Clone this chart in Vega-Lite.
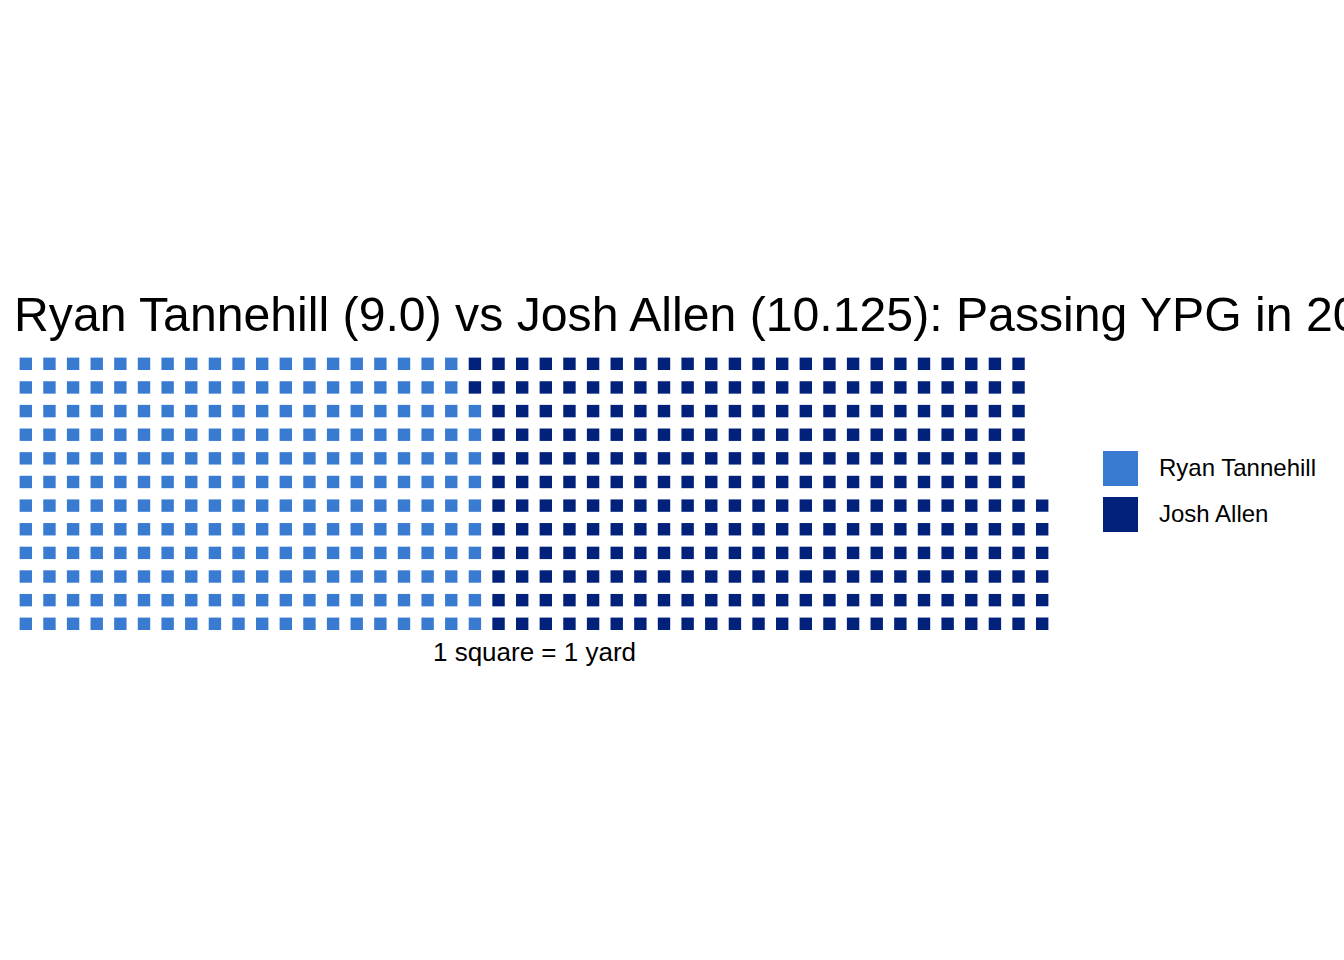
{
  "$schema": "https://vega.github.io/schema/vega-lite/v6.json",
  "autosize": "none",
  "width": 1040,
  "height": 283.6,
  "padding": {"left": 14, "top": 352, "right": 290, "bottom": 324.4},
  "background": "white",
  "title": {
    "text": "Ryan Tannehill (9.0) vs Josh Allen (10.125): Passing YPG in 2020",
    "anchor": "start",
    "font": "Liberation Sans",
    "fontSize": 48.2,
    "fontWeight": "normal",
    "color": "black",
    "offset": 11
  },
  "config": {"view": {"stroke": null}},
  "data": {"values": [
{"col":0,"row":1,"player":"Ryan Tannehill"},{"col":0,"row":2,"player":"Ryan Tannehill"},{"col":0,"row":3,"player":"Ryan Tannehill"},{"col":0,"row":4,"player":"Ryan Tannehill"},{"col":0,"row":5,"player":"Ryan Tannehill"},{"col":0,"row":6,"player":"Ryan Tannehill"},{"col":0,"row":7,"player":"Ryan Tannehill"},{"col":0,"row":8,"player":"Ryan Tannehill"},{"col":0,"row":9,"player":"Ryan Tannehill"},{"col":0,"row":10,"player":"Ryan Tannehill"},{"col":0,"row":11,"player":"Ryan Tannehill"},{"col":0,"row":12,"player":"Ryan Tannehill"},
{"col":1,"row":1,"player":"Ryan Tannehill"},{"col":1,"row":2,"player":"Ryan Tannehill"},{"col":1,"row":3,"player":"Ryan Tannehill"},{"col":1,"row":4,"player":"Ryan Tannehill"},{"col":1,"row":5,"player":"Ryan Tannehill"},{"col":1,"row":6,"player":"Ryan Tannehill"},{"col":1,"row":7,"player":"Ryan Tannehill"},{"col":1,"row":8,"player":"Ryan Tannehill"},{"col":1,"row":9,"player":"Ryan Tannehill"},{"col":1,"row":10,"player":"Ryan Tannehill"},{"col":1,"row":11,"player":"Ryan Tannehill"},{"col":1,"row":12,"player":"Ryan Tannehill"},
{"col":2,"row":1,"player":"Ryan Tannehill"},{"col":2,"row":2,"player":"Ryan Tannehill"},{"col":2,"row":3,"player":"Ryan Tannehill"},{"col":2,"row":4,"player":"Ryan Tannehill"},{"col":2,"row":5,"player":"Ryan Tannehill"},{"col":2,"row":6,"player":"Ryan Tannehill"},{"col":2,"row":7,"player":"Ryan Tannehill"},{"col":2,"row":8,"player":"Ryan Tannehill"},{"col":2,"row":9,"player":"Ryan Tannehill"},{"col":2,"row":10,"player":"Ryan Tannehill"},{"col":2,"row":11,"player":"Ryan Tannehill"},{"col":2,"row":12,"player":"Ryan Tannehill"},
{"col":3,"row":1,"player":"Ryan Tannehill"},{"col":3,"row":2,"player":"Ryan Tannehill"},{"col":3,"row":3,"player":"Ryan Tannehill"},{"col":3,"row":4,"player":"Ryan Tannehill"},{"col":3,"row":5,"player":"Ryan Tannehill"},{"col":3,"row":6,"player":"Ryan Tannehill"},{"col":3,"row":7,"player":"Ryan Tannehill"},{"col":3,"row":8,"player":"Ryan Tannehill"},{"col":3,"row":9,"player":"Ryan Tannehill"},{"col":3,"row":10,"player":"Ryan Tannehill"},{"col":3,"row":11,"player":"Ryan Tannehill"},{"col":3,"row":12,"player":"Ryan Tannehill"},
{"col":4,"row":1,"player":"Ryan Tannehill"},{"col":4,"row":2,"player":"Ryan Tannehill"},{"col":4,"row":3,"player":"Ryan Tannehill"},{"col":4,"row":4,"player":"Ryan Tannehill"},{"col":4,"row":5,"player":"Ryan Tannehill"},{"col":4,"row":6,"player":"Ryan Tannehill"},{"col":4,"row":7,"player":"Ryan Tannehill"},{"col":4,"row":8,"player":"Ryan Tannehill"},{"col":4,"row":9,"player":"Ryan Tannehill"},{"col":4,"row":10,"player":"Ryan Tannehill"},{"col":4,"row":11,"player":"Ryan Tannehill"},{"col":4,"row":12,"player":"Ryan Tannehill"},
{"col":5,"row":1,"player":"Ryan Tannehill"},{"col":5,"row":2,"player":"Ryan Tannehill"},{"col":5,"row":3,"player":"Ryan Tannehill"},{"col":5,"row":4,"player":"Ryan Tannehill"},{"col":5,"row":5,"player":"Ryan Tannehill"},{"col":5,"row":6,"player":"Ryan Tannehill"},{"col":5,"row":7,"player":"Ryan Tannehill"},{"col":5,"row":8,"player":"Ryan Tannehill"},{"col":5,"row":9,"player":"Ryan Tannehill"},{"col":5,"row":10,"player":"Ryan Tannehill"},{"col":5,"row":11,"player":"Ryan Tannehill"},{"col":5,"row":12,"player":"Ryan Tannehill"},
{"col":6,"row":1,"player":"Ryan Tannehill"},{"col":6,"row":2,"player":"Ryan Tannehill"},{"col":6,"row":3,"player":"Ryan Tannehill"},{"col":6,"row":4,"player":"Ryan Tannehill"},{"col":6,"row":5,"player":"Ryan Tannehill"},{"col":6,"row":6,"player":"Ryan Tannehill"},{"col":6,"row":7,"player":"Ryan Tannehill"},{"col":6,"row":8,"player":"Ryan Tannehill"},{"col":6,"row":9,"player":"Ryan Tannehill"},{"col":6,"row":10,"player":"Ryan Tannehill"},{"col":6,"row":11,"player":"Ryan Tannehill"},{"col":6,"row":12,"player":"Ryan Tannehill"},
{"col":7,"row":1,"player":"Ryan Tannehill"},{"col":7,"row":2,"player":"Ryan Tannehill"},{"col":7,"row":3,"player":"Ryan Tannehill"},{"col":7,"row":4,"player":"Ryan Tannehill"},{"col":7,"row":5,"player":"Ryan Tannehill"},{"col":7,"row":6,"player":"Ryan Tannehill"},{"col":7,"row":7,"player":"Ryan Tannehill"},{"col":7,"row":8,"player":"Ryan Tannehill"},{"col":7,"row":9,"player":"Ryan Tannehill"},{"col":7,"row":10,"player":"Ryan Tannehill"},{"col":7,"row":11,"player":"Ryan Tannehill"},{"col":7,"row":12,"player":"Ryan Tannehill"},
{"col":8,"row":1,"player":"Ryan Tannehill"},{"col":8,"row":2,"player":"Ryan Tannehill"},{"col":8,"row":3,"player":"Ryan Tannehill"},{"col":8,"row":4,"player":"Ryan Tannehill"},{"col":8,"row":5,"player":"Ryan Tannehill"},{"col":8,"row":6,"player":"Ryan Tannehill"},{"col":8,"row":7,"player":"Ryan Tannehill"},{"col":8,"row":8,"player":"Ryan Tannehill"},{"col":8,"row":9,"player":"Ryan Tannehill"},{"col":8,"row":10,"player":"Ryan Tannehill"},{"col":8,"row":11,"player":"Ryan Tannehill"},{"col":8,"row":12,"player":"Ryan Tannehill"},
{"col":9,"row":1,"player":"Ryan Tannehill"},{"col":9,"row":2,"player":"Ryan Tannehill"},{"col":9,"row":3,"player":"Ryan Tannehill"},{"col":9,"row":4,"player":"Ryan Tannehill"},{"col":9,"row":5,"player":"Ryan Tannehill"},{"col":9,"row":6,"player":"Ryan Tannehill"},{"col":9,"row":7,"player":"Ryan Tannehill"},{"col":9,"row":8,"player":"Ryan Tannehill"},{"col":9,"row":9,"player":"Ryan Tannehill"},{"col":9,"row":10,"player":"Ryan Tannehill"},{"col":9,"row":11,"player":"Ryan Tannehill"},{"col":9,"row":12,"player":"Ryan Tannehill"},
{"col":10,"row":1,"player":"Ryan Tannehill"},{"col":10,"row":2,"player":"Ryan Tannehill"},{"col":10,"row":3,"player":"Ryan Tannehill"},{"col":10,"row":4,"player":"Ryan Tannehill"},{"col":10,"row":5,"player":"Ryan Tannehill"},{"col":10,"row":6,"player":"Ryan Tannehill"},{"col":10,"row":7,"player":"Ryan Tannehill"},{"col":10,"row":8,"player":"Ryan Tannehill"},{"col":10,"row":9,"player":"Ryan Tannehill"},{"col":10,"row":10,"player":"Ryan Tannehill"},{"col":10,"row":11,"player":"Ryan Tannehill"},{"col":10,"row":12,"player":"Ryan Tannehill"},
{"col":11,"row":1,"player":"Ryan Tannehill"},{"col":11,"row":2,"player":"Ryan Tannehill"},{"col":11,"row":3,"player":"Ryan Tannehill"},{"col":11,"row":4,"player":"Ryan Tannehill"},{"col":11,"row":5,"player":"Ryan Tannehill"},{"col":11,"row":6,"player":"Ryan Tannehill"},{"col":11,"row":7,"player":"Ryan Tannehill"},{"col":11,"row":8,"player":"Ryan Tannehill"},{"col":11,"row":9,"player":"Ryan Tannehill"},{"col":11,"row":10,"player":"Ryan Tannehill"},{"col":11,"row":11,"player":"Ryan Tannehill"},{"col":11,"row":12,"player":"Ryan Tannehill"},
{"col":12,"row":1,"player":"Ryan Tannehill"},{"col":12,"row":2,"player":"Ryan Tannehill"},{"col":12,"row":3,"player":"Ryan Tannehill"},{"col":12,"row":4,"player":"Ryan Tannehill"},{"col":12,"row":5,"player":"Ryan Tannehill"},{"col":12,"row":6,"player":"Ryan Tannehill"},{"col":12,"row":7,"player":"Ryan Tannehill"},{"col":12,"row":8,"player":"Ryan Tannehill"},{"col":12,"row":9,"player":"Ryan Tannehill"},{"col":12,"row":10,"player":"Ryan Tannehill"},{"col":12,"row":11,"player":"Ryan Tannehill"},{"col":12,"row":12,"player":"Ryan Tannehill"},
{"col":13,"row":1,"player":"Ryan Tannehill"},{"col":13,"row":2,"player":"Ryan Tannehill"},{"col":13,"row":3,"player":"Ryan Tannehill"},{"col":13,"row":4,"player":"Ryan Tannehill"},{"col":13,"row":5,"player":"Ryan Tannehill"},{"col":13,"row":6,"player":"Ryan Tannehill"},{"col":13,"row":7,"player":"Ryan Tannehill"},{"col":13,"row":8,"player":"Ryan Tannehill"},{"col":13,"row":9,"player":"Ryan Tannehill"},{"col":13,"row":10,"player":"Ryan Tannehill"},{"col":13,"row":11,"player":"Ryan Tannehill"},{"col":13,"row":12,"player":"Ryan Tannehill"},
{"col":14,"row":1,"player":"Ryan Tannehill"},{"col":14,"row":2,"player":"Ryan Tannehill"},{"col":14,"row":3,"player":"Ryan Tannehill"},{"col":14,"row":4,"player":"Ryan Tannehill"},{"col":14,"row":5,"player":"Ryan Tannehill"},{"col":14,"row":6,"player":"Ryan Tannehill"},{"col":14,"row":7,"player":"Ryan Tannehill"},{"col":14,"row":8,"player":"Ryan Tannehill"},{"col":14,"row":9,"player":"Ryan Tannehill"},{"col":14,"row":10,"player":"Ryan Tannehill"},{"col":14,"row":11,"player":"Ryan Tannehill"},{"col":14,"row":12,"player":"Ryan Tannehill"},
{"col":15,"row":1,"player":"Ryan Tannehill"},{"col":15,"row":2,"player":"Ryan Tannehill"},{"col":15,"row":3,"player":"Ryan Tannehill"},{"col":15,"row":4,"player":"Ryan Tannehill"},{"col":15,"row":5,"player":"Ryan Tannehill"},{"col":15,"row":6,"player":"Ryan Tannehill"},{"col":15,"row":7,"player":"Ryan Tannehill"},{"col":15,"row":8,"player":"Ryan Tannehill"},{"col":15,"row":9,"player":"Ryan Tannehill"},{"col":15,"row":10,"player":"Ryan Tannehill"},{"col":15,"row":11,"player":"Ryan Tannehill"},{"col":15,"row":12,"player":"Ryan Tannehill"},
{"col":16,"row":1,"player":"Ryan Tannehill"},{"col":16,"row":2,"player":"Ryan Tannehill"},{"col":16,"row":3,"player":"Ryan Tannehill"},{"col":16,"row":4,"player":"Ryan Tannehill"},{"col":16,"row":5,"player":"Ryan Tannehill"},{"col":16,"row":6,"player":"Ryan Tannehill"},{"col":16,"row":7,"player":"Ryan Tannehill"},{"col":16,"row":8,"player":"Ryan Tannehill"},{"col":16,"row":9,"player":"Ryan Tannehill"},{"col":16,"row":10,"player":"Ryan Tannehill"},{"col":16,"row":11,"player":"Ryan Tannehill"},{"col":16,"row":12,"player":"Ryan Tannehill"},
{"col":17,"row":1,"player":"Ryan Tannehill"},{"col":17,"row":2,"player":"Ryan Tannehill"},{"col":17,"row":3,"player":"Ryan Tannehill"},{"col":17,"row":4,"player":"Ryan Tannehill"},{"col":17,"row":5,"player":"Ryan Tannehill"},{"col":17,"row":6,"player":"Ryan Tannehill"},{"col":17,"row":7,"player":"Ryan Tannehill"},{"col":17,"row":8,"player":"Ryan Tannehill"},{"col":17,"row":9,"player":"Ryan Tannehill"},{"col":17,"row":10,"player":"Ryan Tannehill"},{"col":17,"row":11,"player":"Ryan Tannehill"},{"col":17,"row":12,"player":"Ryan Tannehill"},
{"col":18,"row":1,"player":"Ryan Tannehill"},{"col":18,"row":2,"player":"Ryan Tannehill"},{"col":18,"row":3,"player":"Ryan Tannehill"},{"col":18,"row":4,"player":"Ryan Tannehill"},{"col":18,"row":5,"player":"Ryan Tannehill"},{"col":18,"row":6,"player":"Ryan Tannehill"},{"col":18,"row":7,"player":"Ryan Tannehill"},{"col":18,"row":8,"player":"Ryan Tannehill"},{"col":18,"row":9,"player":"Ryan Tannehill"},{"col":18,"row":10,"player":"Ryan Tannehill"},{"col":18,"row":11,"player":"Ryan Tannehill"},{"col":18,"row":12,"player":"Ryan Tannehill"},
{"col":19,"row":1,"player":"Ryan Tannehill"},{"col":19,"row":2,"player":"Ryan Tannehill"},{"col":19,"row":3,"player":"Ryan Tannehill"},{"col":19,"row":4,"player":"Ryan Tannehill"},{"col":19,"row":5,"player":"Ryan Tannehill"},{"col":19,"row":6,"player":"Ryan Tannehill"},{"col":19,"row":7,"player":"Ryan Tannehill"},{"col":19,"row":8,"player":"Ryan Tannehill"},{"col":19,"row":9,"player":"Ryan Tannehill"},{"col":19,"row":10,"player":"Ryan Tannehill"},{"col":19,"row":11,"player":"Josh Allen"},{"col":19,"row":12,"player":"Josh Allen"},
{"col":20,"row":1,"player":"Josh Allen"},{"col":20,"row":2,"player":"Josh Allen"},{"col":20,"row":3,"player":"Josh Allen"},{"col":20,"row":4,"player":"Josh Allen"},{"col":20,"row":5,"player":"Josh Allen"},{"col":20,"row":6,"player":"Josh Allen"},{"col":20,"row":7,"player":"Josh Allen"},{"col":20,"row":8,"player":"Josh Allen"},{"col":20,"row":9,"player":"Josh Allen"},{"col":20,"row":10,"player":"Josh Allen"},{"col":20,"row":11,"player":"Josh Allen"},{"col":20,"row":12,"player":"Josh Allen"},
{"col":21,"row":1,"player":"Josh Allen"},{"col":21,"row":2,"player":"Josh Allen"},{"col":21,"row":3,"player":"Josh Allen"},{"col":21,"row":4,"player":"Josh Allen"},{"col":21,"row":5,"player":"Josh Allen"},{"col":21,"row":6,"player":"Josh Allen"},{"col":21,"row":7,"player":"Josh Allen"},{"col":21,"row":8,"player":"Josh Allen"},{"col":21,"row":9,"player":"Josh Allen"},{"col":21,"row":10,"player":"Josh Allen"},{"col":21,"row":11,"player":"Josh Allen"},{"col":21,"row":12,"player":"Josh Allen"},
{"col":22,"row":1,"player":"Josh Allen"},{"col":22,"row":2,"player":"Josh Allen"},{"col":22,"row":3,"player":"Josh Allen"},{"col":22,"row":4,"player":"Josh Allen"},{"col":22,"row":5,"player":"Josh Allen"},{"col":22,"row":6,"player":"Josh Allen"},{"col":22,"row":7,"player":"Josh Allen"},{"col":22,"row":8,"player":"Josh Allen"},{"col":22,"row":9,"player":"Josh Allen"},{"col":22,"row":10,"player":"Josh Allen"},{"col":22,"row":11,"player":"Josh Allen"},{"col":22,"row":12,"player":"Josh Allen"},
{"col":23,"row":1,"player":"Josh Allen"},{"col":23,"row":2,"player":"Josh Allen"},{"col":23,"row":3,"player":"Josh Allen"},{"col":23,"row":4,"player":"Josh Allen"},{"col":23,"row":5,"player":"Josh Allen"},{"col":23,"row":6,"player":"Josh Allen"},{"col":23,"row":7,"player":"Josh Allen"},{"col":23,"row":8,"player":"Josh Allen"},{"col":23,"row":9,"player":"Josh Allen"},{"col":23,"row":10,"player":"Josh Allen"},{"col":23,"row":11,"player":"Josh Allen"},{"col":23,"row":12,"player":"Josh Allen"},
{"col":24,"row":1,"player":"Josh Allen"},{"col":24,"row":2,"player":"Josh Allen"},{"col":24,"row":3,"player":"Josh Allen"},{"col":24,"row":4,"player":"Josh Allen"},{"col":24,"row":5,"player":"Josh Allen"},{"col":24,"row":6,"player":"Josh Allen"},{"col":24,"row":7,"player":"Josh Allen"},{"col":24,"row":8,"player":"Josh Allen"},{"col":24,"row":9,"player":"Josh Allen"},{"col":24,"row":10,"player":"Josh Allen"},{"col":24,"row":11,"player":"Josh Allen"},{"col":24,"row":12,"player":"Josh Allen"},
{"col":25,"row":1,"player":"Josh Allen"},{"col":25,"row":2,"player":"Josh Allen"},{"col":25,"row":3,"player":"Josh Allen"},{"col":25,"row":4,"player":"Josh Allen"},{"col":25,"row":5,"player":"Josh Allen"},{"col":25,"row":6,"player":"Josh Allen"},{"col":25,"row":7,"player":"Josh Allen"},{"col":25,"row":8,"player":"Josh Allen"},{"col":25,"row":9,"player":"Josh Allen"},{"col":25,"row":10,"player":"Josh Allen"},{"col":25,"row":11,"player":"Josh Allen"},{"col":25,"row":12,"player":"Josh Allen"},
{"col":26,"row":1,"player":"Josh Allen"},{"col":26,"row":2,"player":"Josh Allen"},{"col":26,"row":3,"player":"Josh Allen"},{"col":26,"row":4,"player":"Josh Allen"},{"col":26,"row":5,"player":"Josh Allen"},{"col":26,"row":6,"player":"Josh Allen"},{"col":26,"row":7,"player":"Josh Allen"},{"col":26,"row":8,"player":"Josh Allen"},{"col":26,"row":9,"player":"Josh Allen"},{"col":26,"row":10,"player":"Josh Allen"},{"col":26,"row":11,"player":"Josh Allen"},{"col":26,"row":12,"player":"Josh Allen"},
{"col":27,"row":1,"player":"Josh Allen"},{"col":27,"row":2,"player":"Josh Allen"},{"col":27,"row":3,"player":"Josh Allen"},{"col":27,"row":4,"player":"Josh Allen"},{"col":27,"row":5,"player":"Josh Allen"},{"col":27,"row":6,"player":"Josh Allen"},{"col":27,"row":7,"player":"Josh Allen"},{"col":27,"row":8,"player":"Josh Allen"},{"col":27,"row":9,"player":"Josh Allen"},{"col":27,"row":10,"player":"Josh Allen"},{"col":27,"row":11,"player":"Josh Allen"},{"col":27,"row":12,"player":"Josh Allen"},
{"col":28,"row":1,"player":"Josh Allen"},{"col":28,"row":2,"player":"Josh Allen"},{"col":28,"row":3,"player":"Josh Allen"},{"col":28,"row":4,"player":"Josh Allen"},{"col":28,"row":5,"player":"Josh Allen"},{"col":28,"row":6,"player":"Josh Allen"},{"col":28,"row":7,"player":"Josh Allen"},{"col":28,"row":8,"player":"Josh Allen"},{"col":28,"row":9,"player":"Josh Allen"},{"col":28,"row":10,"player":"Josh Allen"},{"col":28,"row":11,"player":"Josh Allen"},{"col":28,"row":12,"player":"Josh Allen"},
{"col":29,"row":1,"player":"Josh Allen"},{"col":29,"row":2,"player":"Josh Allen"},{"col":29,"row":3,"player":"Josh Allen"},{"col":29,"row":4,"player":"Josh Allen"},{"col":29,"row":5,"player":"Josh Allen"},{"col":29,"row":6,"player":"Josh Allen"},{"col":29,"row":7,"player":"Josh Allen"},{"col":29,"row":8,"player":"Josh Allen"},{"col":29,"row":9,"player":"Josh Allen"},{"col":29,"row":10,"player":"Josh Allen"},{"col":29,"row":11,"player":"Josh Allen"},{"col":29,"row":12,"player":"Josh Allen"},
{"col":30,"row":1,"player":"Josh Allen"},{"col":30,"row":2,"player":"Josh Allen"},{"col":30,"row":3,"player":"Josh Allen"},{"col":30,"row":4,"player":"Josh Allen"},{"col":30,"row":5,"player":"Josh Allen"},{"col":30,"row":6,"player":"Josh Allen"},{"col":30,"row":7,"player":"Josh Allen"},{"col":30,"row":8,"player":"Josh Allen"},{"col":30,"row":9,"player":"Josh Allen"},{"col":30,"row":10,"player":"Josh Allen"},{"col":30,"row":11,"player":"Josh Allen"},{"col":30,"row":12,"player":"Josh Allen"},
{"col":31,"row":1,"player":"Josh Allen"},{"col":31,"row":2,"player":"Josh Allen"},{"col":31,"row":3,"player":"Josh Allen"},{"col":31,"row":4,"player":"Josh Allen"},{"col":31,"row":5,"player":"Josh Allen"},{"col":31,"row":6,"player":"Josh Allen"},{"col":31,"row":7,"player":"Josh Allen"},{"col":31,"row":8,"player":"Josh Allen"},{"col":31,"row":9,"player":"Josh Allen"},{"col":31,"row":10,"player":"Josh Allen"},{"col":31,"row":11,"player":"Josh Allen"},{"col":31,"row":12,"player":"Josh Allen"},
{"col":32,"row":1,"player":"Josh Allen"},{"col":32,"row":2,"player":"Josh Allen"},{"col":32,"row":3,"player":"Josh Allen"},{"col":32,"row":4,"player":"Josh Allen"},{"col":32,"row":5,"player":"Josh Allen"},{"col":32,"row":6,"player":"Josh Allen"},{"col":32,"row":7,"player":"Josh Allen"},{"col":32,"row":8,"player":"Josh Allen"},{"col":32,"row":9,"player":"Josh Allen"},{"col":32,"row":10,"player":"Josh Allen"},{"col":32,"row":11,"player":"Josh Allen"},{"col":32,"row":12,"player":"Josh Allen"},
{"col":33,"row":1,"player":"Josh Allen"},{"col":33,"row":2,"player":"Josh Allen"},{"col":33,"row":3,"player":"Josh Allen"},{"col":33,"row":4,"player":"Josh Allen"},{"col":33,"row":5,"player":"Josh Allen"},{"col":33,"row":6,"player":"Josh Allen"},{"col":33,"row":7,"player":"Josh Allen"},{"col":33,"row":8,"player":"Josh Allen"},{"col":33,"row":9,"player":"Josh Allen"},{"col":33,"row":10,"player":"Josh Allen"},{"col":33,"row":11,"player":"Josh Allen"},{"col":33,"row":12,"player":"Josh Allen"},
{"col":34,"row":1,"player":"Josh Allen"},{"col":34,"row":2,"player":"Josh Allen"},{"col":34,"row":3,"player":"Josh Allen"},{"col":34,"row":4,"player":"Josh Allen"},{"col":34,"row":5,"player":"Josh Allen"},{"col":34,"row":6,"player":"Josh Allen"},{"col":34,"row":7,"player":"Josh Allen"},{"col":34,"row":8,"player":"Josh Allen"},{"col":34,"row":9,"player":"Josh Allen"},{"col":34,"row":10,"player":"Josh Allen"},{"col":34,"row":11,"player":"Josh Allen"},{"col":34,"row":12,"player":"Josh Allen"},
{"col":35,"row":1,"player":"Josh Allen"},{"col":35,"row":2,"player":"Josh Allen"},{"col":35,"row":3,"player":"Josh Allen"},{"col":35,"row":4,"player":"Josh Allen"},{"col":35,"row":5,"player":"Josh Allen"},{"col":35,"row":6,"player":"Josh Allen"},{"col":35,"row":7,"player":"Josh Allen"},{"col":35,"row":8,"player":"Josh Allen"},{"col":35,"row":9,"player":"Josh Allen"},{"col":35,"row":10,"player":"Josh Allen"},{"col":35,"row":11,"player":"Josh Allen"},{"col":35,"row":12,"player":"Josh Allen"},
{"col":36,"row":1,"player":"Josh Allen"},{"col":36,"row":2,"player":"Josh Allen"},{"col":36,"row":3,"player":"Josh Allen"},{"col":36,"row":4,"player":"Josh Allen"},{"col":36,"row":5,"player":"Josh Allen"},{"col":36,"row":6,"player":"Josh Allen"},{"col":36,"row":7,"player":"Josh Allen"},{"col":36,"row":8,"player":"Josh Allen"},{"col":36,"row":9,"player":"Josh Allen"},{"col":36,"row":10,"player":"Josh Allen"},{"col":36,"row":11,"player":"Josh Allen"},{"col":36,"row":12,"player":"Josh Allen"},
{"col":37,"row":1,"player":"Josh Allen"},{"col":37,"row":2,"player":"Josh Allen"},{"col":37,"row":3,"player":"Josh Allen"},{"col":37,"row":4,"player":"Josh Allen"},{"col":37,"row":5,"player":"Josh Allen"},{"col":37,"row":6,"player":"Josh Allen"},{"col":37,"row":7,"player":"Josh Allen"},{"col":37,"row":8,"player":"Josh Allen"},{"col":37,"row":9,"player":"Josh Allen"},{"col":37,"row":10,"player":"Josh Allen"},{"col":37,"row":11,"player":"Josh Allen"},{"col":37,"row":12,"player":"Josh Allen"},
{"col":38,"row":1,"player":"Josh Allen"},{"col":38,"row":2,"player":"Josh Allen"},{"col":38,"row":3,"player":"Josh Allen"},{"col":38,"row":4,"player":"Josh Allen"},{"col":38,"row":5,"player":"Josh Allen"},{"col":38,"row":6,"player":"Josh Allen"},{"col":38,"row":7,"player":"Josh Allen"},{"col":38,"row":8,"player":"Josh Allen"},{"col":38,"row":9,"player":"Josh Allen"},{"col":38,"row":10,"player":"Josh Allen"},{"col":38,"row":11,"player":"Josh Allen"},{"col":38,"row":12,"player":"Josh Allen"},
{"col":39,"row":1,"player":"Josh Allen"},{"col":39,"row":2,"player":"Josh Allen"},{"col":39,"row":3,"player":"Josh Allen"},{"col":39,"row":4,"player":"Josh Allen"},{"col":39,"row":5,"player":"Josh Allen"},{"col":39,"row":6,"player":"Josh Allen"},{"col":39,"row":7,"player":"Josh Allen"},{"col":39,"row":8,"player":"Josh Allen"},{"col":39,"row":9,"player":"Josh Allen"},{"col":39,"row":10,"player":"Josh Allen"},{"col":39,"row":11,"player":"Josh Allen"},{"col":39,"row":12,"player":"Josh Allen"},
{"col":40,"row":1,"player":"Josh Allen"},{"col":40,"row":2,"player":"Josh Allen"},{"col":40,"row":3,"player":"Josh Allen"},{"col":40,"row":4,"player":"Josh Allen"},{"col":40,"row":5,"player":"Josh Allen"},{"col":40,"row":6,"player":"Josh Allen"},{"col":40,"row":7,"player":"Josh Allen"},{"col":40,"row":8,"player":"Josh Allen"},{"col":40,"row":9,"player":"Josh Allen"},{"col":40,"row":10,"player":"Josh Allen"},{"col":40,"row":11,"player":"Josh Allen"},{"col":40,"row":12,"player":"Josh Allen"},
{"col":41,"row":1,"player":"Josh Allen"},{"col":41,"row":2,"player":"Josh Allen"},{"col":41,"row":3,"player":"Josh Allen"},{"col":41,"row":4,"player":"Josh Allen"},{"col":41,"row":5,"player":"Josh Allen"},{"col":41,"row":6,"player":"Josh Allen"},{"col":41,"row":7,"player":"Josh Allen"},{"col":41,"row":8,"player":"Josh Allen"},{"col":41,"row":9,"player":"Josh Allen"},{"col":41,"row":10,"player":"Josh Allen"},{"col":41,"row":11,"player":"Josh Allen"},{"col":41,"row":12,"player":"Josh Allen"},
{"col":42,"row":1,"player":"Josh Allen"},{"col":42,"row":2,"player":"Josh Allen"},{"col":42,"row":3,"player":"Josh Allen"},{"col":42,"row":4,"player":"Josh Allen"},{"col":42,"row":5,"player":"Josh Allen"},{"col":42,"row":6,"player":"Josh Allen"},{"col":42,"row":7,"player":"Josh Allen"},{"col":42,"row":8,"player":"Josh Allen"},{"col":42,"row":9,"player":"Josh Allen"},{"col":42,"row":10,"player":"Josh Allen"},{"col":42,"row":11,"player":"Josh Allen"},{"col":42,"row":12,"player":"Josh Allen"},
{"col":43,"row":1,"player":"Josh Allen"},{"col":43,"row":2,"player":"Josh Allen"},{"col":43,"row":3,"player":"Josh Allen"},{"col":43,"row":4,"player":"Josh Allen"},{"col":43,"row":5,"player":"Josh Allen"},{"col":43,"row":6,"player":"Josh Allen"}
  ]},
  "mark": {"type": "rect"},
  "encoding": {
    "x": {
      "field": "col",
      "type": "ordinal",
      "scale": {"paddingInner": 0.475, "paddingOuter": 0.2375},
      "axis": {
        "title": "1 square = 1 yard",
        "labels": false,
        "ticks": false,
        "domain": false,
        "grid": false,
        "titleFont": "Liberation Sans",
        "titleFontSize": 26,
        "titleFontWeight": "normal",
        "titleColor": "black",
        "titlePadding": 4
      }
    },
    "y": {
      "field": "row",
      "type": "ordinal",
      "sort": "descending",
      "scale": {"paddingInner": 0.475, "paddingOuter": 0.2375},
      "axis": null
    },
    "color": {
      "field": "player",
      "type": "nominal",
      "scale": {
        "domain": ["Ryan Tannehill", "Josh Allen"],
        "range": ["#3a7bd2", "#01217a"]
      },
      "legend": {
        "title": null,
        "orient": "none",
        "legendX": 1089,
        "legendY": 99,
        "padding": 0,
        "symbolType": "square",
        "symbolSize": 1225,
        "symbolStrokeWidth": 0,
        "symbolOpacity": 1,
        "labelFont": "Liberation Sans",
        "labelFontSize": 24,
        "labelColor": "black",
        "labelOffset": 21,
        "rowPadding": 11
      }
    }
  }
}
